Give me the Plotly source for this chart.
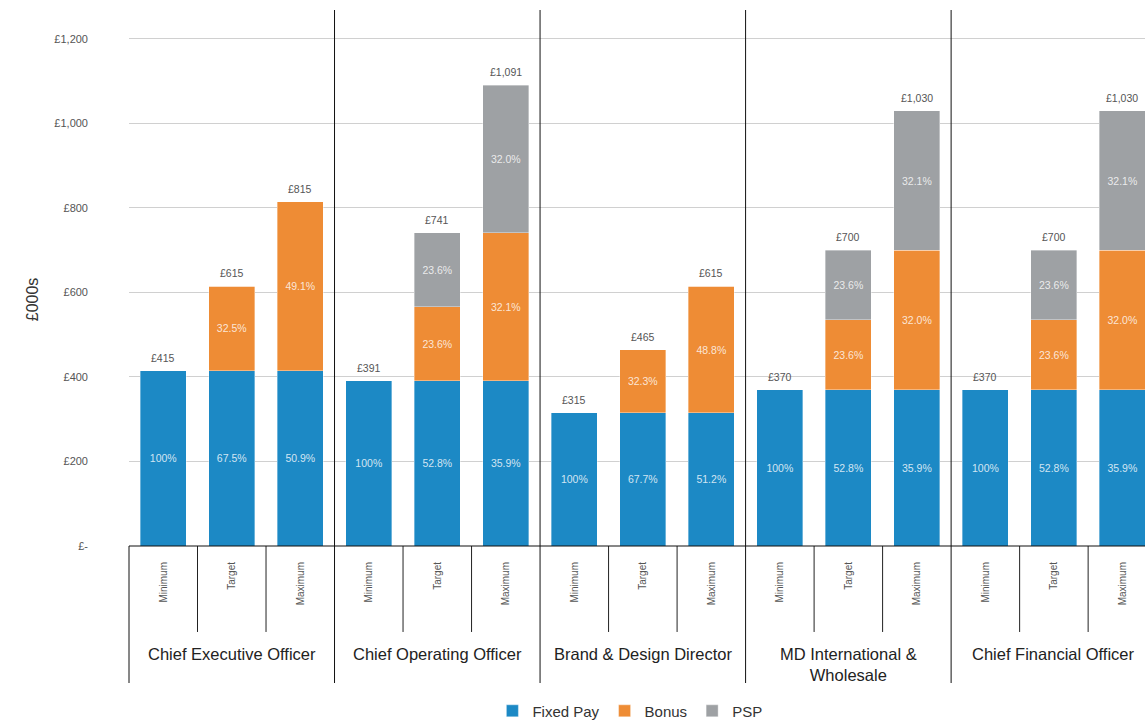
import plotly.graph_objects as go

groups = ["Chief Executive Officer", "Chief Operating Officer", "Brand & Design Director",
          "MD International &<br>Wholesale", "Chief Financial Officer"]
scenarios = ["Minimum", "Target", "Maximum"]

fixed_pay = [415, 415, 415, 391, 391, 391, 315, 315, 315, 370, 370, 370, 370, 370, 370]
bonus     = [0, 200, 400, 0, 175, 350, 0, 150, 300, 0, 165, 330, 0, 165, 330]
psp       = [0, 0, 0, 0, 175, 350, 0, 0, 0, 0, 165, 330, 0, 165, 330]
totals    = [415, 615, 815, 391, 741, 1091, 315, 465, 615, 370, 700, 1030, 370, 700, 1030]

fixed_pct = ["100%", "67.5%", "50.9%", "100%", "52.8%", "35.9%", "100%", "67.7%", "51.2%",
             "100%", "52.8%", "35.9%", "100%", "52.8%", "35.9%"]
bonus_pct = ["", "32.5%", "49.1%", "", "23.6%", "32.1%", "", "32.3%", "48.8%",
             "", "23.6%", "32.0%", "", "23.6%", "32.0%"]
psp_pct   = ["", "", "", "", "23.6%", "32.0%", "", "", "", "", "23.6%", "32.1%", "", "23.6%", "32.1%"]

y_ticks = [0, 200, 400, 600, 800, 1000, 1200]
y_tick_text = ["£-", "£200", "£400", "£600", "£800", "£1,000", "£1,200"]

BLUE = "#1C89C5"
ORANGE = "#EE8C35"
GREY = "#9EA1A4"
FONT = "Liberation Sans"

n_per = len(scenarios)
xs = list(range(len(totals)))
x_range = [-0.5, 14.33]
y_range = [0, 1268.6]

def px(v):
    return (v - x_range[0]) / (x_range[1] - x_range[0])

fig = go.Figure()
inside_font = dict(family=FONT, size=10.5, color="rgba(255,255,255,0.8)")
line = dict(width=0.6, color="rgba(255,255,255,0.6)")
for name, vals, txt, col in [("Fixed Pay", fixed_pay, fixed_pct, BLUE),
                             ("Bonus", bonus, bonus_pct, ORANGE),
                             ("PSP", psp, psp_pct, GREY)]:
    fig.add_trace(go.Bar(
        x=xs, y=vals, name=name, marker=dict(color=col, line=line),
        text=txt, textposition="inside", insidetextanchor="middle",
        textfont=inside_font, textangle=0, width=0.67, hoverinfo="y+name"))

annotations = []
for x, t in zip(xs, totals):
    annotations.append(dict(x=x, y=t, xref="x", yref="y", text=f"£{t:,}", showarrow=False,
                            yanchor="middle", yshift=13,
                            font=dict(family=FONT, size=10.5, color="#555")))

shapes = []
n_groups = len(groups)
for g in range(n_groups):
    b = g * n_per - 0.5
    shapes.append(dict(type="line", xref="paper", yref="paper", x0=px(b), x1=px(b),
                       y0=-0.2556, y1=0 if g == 0 else 1,
                       line=dict(color="#111", width=1)))
    for i in range(1, n_per):
        bx = g * n_per + i - 0.5
        shapes.append(dict(type="line", xref="paper", yref="paper", x0=px(bx), x1=px(bx),
                           y0=-0.1604, y1=0, line=dict(color="#222", width=1)))
shapes.append(dict(type="line", xref="paper", yref="paper", x0=0, x1=1.02, y0=0, y1=0,
                   line=dict(color="#111", width=1.2)))

for g, name in enumerate(groups):
    cx = px(g * n_per + (n_per - 1) / 2)
    annotations.append(dict(x=cx, y=-0.181, xref="paper", yref="paper", text=name,
                            showarrow=False, yanchor="top", xanchor="center",
                            font=dict(family=FONT, size=16.5, color="#222")))
annotations.append(dict(x=-0.105, y=0.46, xref="paper", yref="paper", text="£000s",
                        textangle=-90, showarrow=False,
                        font=dict(family=FONT, size=16, color="#333")))

fig.update_layout(
    width=1145, height=720,
    margin=dict(l=129, r=0, t=10, b=174, autoexpand=False),
    barmode="stack", plot_bgcolor="white", paper_bgcolor="white",
    font=dict(family=FONT),
    xaxis=dict(range=x_range, tickvals=xs, ticktext=scenarios * n_groups, tickangle=-90,
               tickfont=dict(family=FONT, size=10, color="#555"), showgrid=False,
               zeroline=False, showline=False, ticks="", ticklabelstandoff=13,
               automargin=False),
    yaxis=dict(range=y_range, tickvals=y_ticks, ticktext=y_tick_text,
               tickfont=dict(family=FONT, size=11, color="#555"), showgrid=True,
               gridcolor="#d0d0d0", gridwidth=1, zeroline=False, showline=False,
               ticks="", ticklabelstandoff=40, automargin=False),
    legend=dict(orientation="h", x=0.493, xanchor="center", y=-0.308, yanchor="middle",
                font=dict(family=FONT, size=15, color="#333"), traceorder="normal"),
    shapes=shapes, annotations=annotations, bargap=0.33,
)

fig.write_html("out.html")
